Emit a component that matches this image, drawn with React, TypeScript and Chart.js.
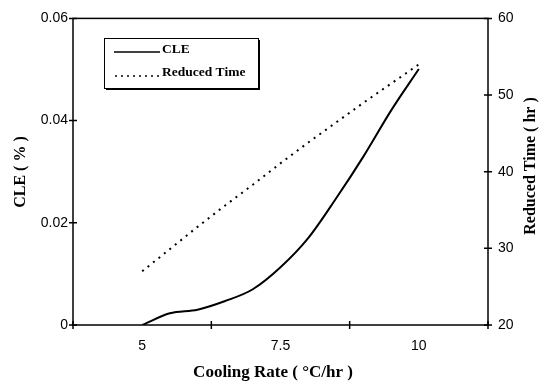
import React, { useEffect, useRef } from "react";
import { Chart, registerables } from "chart.js";

Chart.register(...registerables);

const coolingRate = [5, 5.5, 6, 6.5, 7, 7.5, 8, 8.5, 9, 9.5, 10];
const cle = [0, 0.0023, 0.003, 0.0047, 0.007, 0.0113, 0.017, 0.0247, 0.033, 0.042, 0.0501];
const reducedTime = [27.0, 29.9, 32.8, 35.6, 38.3, 41.1, 43.8, 46.4, 49.0, 51.5, 54.0];
const xTickLabels = [5, 7.5, 10];
const xTickMarks = [3.75, 6.25, 8.75, 11.25];
const xRange = [3.75, 11.25];
const cleRange = [0, 0.06];
const timeRange = [20, 60];

const SANS = "'Liberation Sans', Arial, sans-serif";
const SERIF = "'Liberation Serif', 'Times New Roman', serif";

const decorPlugin = {
  id: "decor",
  afterDraw(chart: any) {
    const ctx = chart.ctx;
    const a = chart.chartArea;
    const xs = chart.scales.x;
    const yl = chart.scales.y;
    const yr = chart.scales.y2;
    ctx.save();
    // frame
    ctx.strokeStyle = "#000";
    ctx.lineWidth = 1.5;
    ctx.strokeRect(a.left, a.top, a.right - a.left, a.bottom - a.top);
    // tick marks crossing axes
    ctx.beginPath();
    xTickMarks.forEach((v) => {
      const px = xs.getPixelForValue(v);
      ctx.moveTo(px, a.bottom - 4);
      ctx.lineTo(px, a.bottom + 4);
    });
    yl.ticks.forEach((t: any) => {
      const py = yl.getPixelForValue(t.value);
      ctx.moveTo(a.left - 4, py);
      ctx.lineTo(a.left + 4, py);
    });
    yr.ticks.forEach((t: any) => {
      const py = yr.getPixelForValue(t.value);
      ctx.moveTo(a.right - 4, py);
      ctx.lineTo(a.right + 4, py);
    });
    ctx.stroke();

    // axis titles
    ctx.fillStyle = "#000";
    ctx.textAlign = "center";
    ctx.textBaseline = "middle";
    ctx.font = `bold 17px ${SERIF}`;
    ctx.fillText("Cooling Rate ( \u00B0C/hr )", 273, 373);
    ctx.font = `bold 16px ${SERIF}`;
    ctx.save();
    ctx.translate(21, 172);
    ctx.rotate(-Math.PI / 2);
    ctx.fillText("CLE ( % )", 0, 0);
    ctx.restore();
    ctx.save();
    ctx.translate(531, 166);
    ctx.rotate(-Math.PI / 2);
    ctx.fillText("Reduced Time ( hr )", 0, 0);
    ctx.restore();

    // legend
    const lx = 104, ly = 38, lw = 154, lh = 50;
    ctx.fillStyle = "#000";
    ctx.fillRect(lx + 2, ly + 2, lw, lh);
    ctx.fillStyle = "#fff";
    ctx.fillRect(lx, ly, lw, lh);
    ctx.strokeStyle = "#000";
    ctx.lineWidth = 1;
    ctx.strokeRect(lx + 0.5, ly + 0.5, lw, lh);
    ctx.lineWidth = 1.5;
    ctx.beginPath();
    ctx.moveTo(114, 52);
    ctx.lineTo(160, 52);
    ctx.stroke();
    ctx.save();
    ctx.setLineDash([2, 4]);
    ctx.lineWidth = 1.5;
    ctx.beginPath();
    ctx.moveTo(115, 76);
    ctx.lineTo(160, 76);
    ctx.stroke();
    ctx.restore();
    ctx.fillStyle = "#000";
    ctx.font = `bold 13.5px ${SERIF}`;
    ctx.textAlign = "left";
    ctx.textBaseline = "middle";
    ctx.fillText("CLE", 162, 50);
    ctx.fillText("Reduced Time", 162, 73);
    ctx.restore();
  },
};

export default function App() {
  const ref = useRef<HTMLCanvasElement | null>(null);
  useEffect(() => {
    if (!ref.current) return;
    const chart = new Chart(ref.current, {
      type: "line",
      data: {
        datasets: [
          {
            label: "CLE",
            data: coolingRate.map((x, i) => ({ x, y: cle[i] })),
            yAxisID: "y",
            borderColor: "#000",
            borderWidth: 2,
            pointRadius: 0,
            cubicInterpolationMode: "monotone",
            fill: false,
          },
          {
            label: "Reduced Time",
            data: coolingRate.map((x, i) => ({ x, y: reducedTime[i] })),
            yAxisID: "y2",
            borderColor: "#000",
            borderWidth: 2,
            borderDash: [2, 5],
            pointRadius: 0,
            tension: 0,
            fill: false,
          },
        ],
      },
      options: {
        responsive: false,
        animation: false,
        layout: { padding: { top: 10, left: 0, right: 0, bottom: 0 } },
        plugins: { legend: { display: false }, tooltip: { enabled: false } },
        scales: {
          x: {
            type: "linear",
            min: xRange[0],
            max: xRange[1],
            afterBuildTicks: (s: any) => {
              s.ticks = xTickLabels.map((v) => ({ value: v }));
            },
            afterFit: (s: any) => {
              s.height = 62;
            },
            grid: { display: false, drawTicks: false },
            border: { display: false },
            ticks: {
              color: "#000",
              font: { family: SANS, size: 14 },
              padding: 13,
              maxRotation: 0,
              callback: (v: any) => String(v),
            },
          },
          y: {
            type: "linear",
            position: "left",
            min: cleRange[0],
            max: cleRange[1],
            afterFit: (s: any) => {
              s.width = 73;
            },
            grid: { display: false, drawTicks: false },
            border: { display: false },
            ticks: {
              stepSize: 0.02,
              color: "#000",
              font: { family: SANS, size: 14 },
              padding: 5,
            },
          },
          y2: {
            type: "linear",
            position: "right",
            min: timeRange[0],
            max: timeRange[1],
            afterFit: (s: any) => {
              s.width = 63;
            },
            grid: { display: false, drawTicks: false },
            border: { display: false },
            ticks: {
              stepSize: 10,
              color: "#000",
              font: { family: SANS, size: 14 },
              padding: 10,
            },
          },
        },
      },
      plugins: [decorPlugin],
    } as any);
    return () => chart.destroy();
  }, []);
  return (
    <div style={{ position: "fixed", left: 0, top: 0, width: 551, height: 387, background: "#fff" }}>
      <canvas ref={ref} width={551} height={387} style={{ display: "block", width: 551, height: 387 }} />
    </div>
  );
}
